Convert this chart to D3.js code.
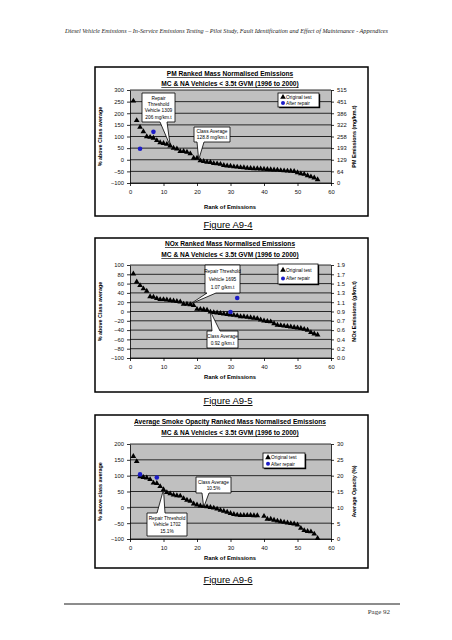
<!DOCTYPE html>
<html><head><meta charset="utf-8">
<script src="https://cdn.jsdelivr.net/npm/d3@7"></script>
<style>
html,body{margin:0;padding:0;background:#fff;}
svg{display:block;}
text{font-family:"Liberation Sans",Arial,sans-serif;}
</style></head>
<body>
<script>
// ---------------- DATA ----------------
const ranks = d3.range(1, 57);
const xTicks = [0, 10, 20, 30, 40, 50, 60];

const pmOriginal = [253,169,140,121,100,97,93,83,74,71,67,60,50,47,36,36,33,26,7,7,-4,-7,-10,-11,-16,-17,-19,-24,-26,-27,-30,-31,-33,-34,-36,-37,-38,-38,-39,-40,-41,-42,-43,-44,-46,-47,-48,-49,-50,-55,-60,-62,-68,-73,-78,-85];
const pmRepairRanks = [3, 7];
const pmRepair = [47, 120];
const pmLeftTicks = [-100,-50,0,50,100,150,200,250,300];
const pmRightLabels = ["0","64","129","193","258","322","386","451","515"];

const noxOriginal = [81,64,56,49,44,32,31,28,26,26,25,24,23,22,21,16,16,15,13,5,5,4,3,-1,-2,-3,-4,-5,-6,-7,-8,-9,-11,-11,-12,-13,-14,-15,-18,-20,-21,-22,-26,-29,-30,-31,-32,-33,-34,-35,-36,-38,-40,-45,-48,-50];
const noxRepairRanks = [30, 32];
const noxRepair = [-1, 29];
const noxLeftTicks = [-100,-80,-60,-40,-20,0,20,40,60,80,100];
const noxRightLabels = ["0.0","0.2","0.4","0.6","0.7","0.9","1.1","1.3","1.5","1.7","1.9"];

const smokeOriginal = [161,145,97,95,93,88,77,76,66,56,47,43,39,37,36,28,23,20,11,8,5,4,2,0,-2,-5,-9,-12,-15,-19,-22,-24,-25,-25,-25,-25,-26,-26,null,-28,-37,-37,-40,-43,-45,-47,-49,-51,-52,-55,-66,-73,-76,-77,-84,-98];
const smokeRepairRanks = [3, 8];
const smokeRepair = [104, 94];
const smokeLeftTicks = [-100,-50,0,50,100,150,200];
const smokeRightLabels = ["0","5","10","15","20","25","30"];

const legendLabels = ["Original test", "After repair"];
const headerText = "Diesel Vehicle Emissions \u2013 In-Service Emissions Testing \u2013 Pilot Study, Fault Identification and Effect of Maintenance - Appendices";

// ---------------- DRAW ----------------
const W = 452, H = 640;
const svg = d3.select("body").append("svg").attr("width", W).attr("height", H);

svg.append("text").attr("x", 65).attr("y", 33)
  .attr("textLength", 323).attr("lengthAdjust", "spacingAndGlyphs")
  .style("font-family", "'Liberation Serif','Times New Roman',serif").style("font-style", "italic")
  .style("font-size", "7px").attr("fill", "#222").text(headerText);

const BLUE = "#1c1cc8";

function callout(g, box, side, b1, b2, tip, lines) {
  const [bx, by, bw, bh] = box;
  let p;
  if (side === "bottom") {
    p = `M${bx},${by}H${bx+bw}V${by+bh}H${b2}L${tip[0]},${tip[1]}L${b1},${by+bh}H${bx}Z`;
  } else {
    p = `M${bx},${by}H${b1}L${tip[0]},${tip[1]}L${b2},${by}H${bx+bw}V${by+bh}H${bx}Z`;
  }
  g.append("path").attr("d", p).attr("fill", "#fff").attr("stroke", "#000").attr("stroke-width", 0.8);
  const lh = bh / (lines.length + 0.6);
  lines.forEach((t, i) => {
    g.append("text").attr("x", bx + bw / 2).attr("y", by + lh * (i + 0.8) + 1.8)
      .attr("text-anchor", "middle").style("font-size", "4.8px").text(t);
  });
}

function drawChart(cfg) {
  const g = svg.append("g");
  // frame
  g.append("rect").attr("x", cfg.frame[0]).attr("y", cfg.frame[1])
    .attr("width", cfg.frame[2] - cfg.frame[0]).attr("height", cfg.frame[3] - cfg.frame[1])
    .attr("fill", "#fff").attr("stroke", "#000").attr("stroke-width", 1.5);

  const x = d3.scaleLinear().domain([0, 60]).range([130, 331]);
  const y = d3.scaleLinear().domain(d3.extent(cfg.leftTicks)).range([cfg.plotBottom, cfg.plotTop]);

  // titles
  cfg.titles.forEach((t, i) => {
    g.append("text").attr("x", 230).attr("y", cfg.titleY[i]).attr("text-anchor", "middle")
      .style("font-size", "6.6px").style("font-weight", "bold").style("text-decoration", "underline")
      .text(t);
  });

  // plot background
  g.append("rect").attr("x", x(0)).attr("y", cfg.plotTop).attr("width", x(60) - x(0))
    .attr("height", cfg.plotBottom - cfg.plotTop).attr("fill", "#c0c0c0");

  // gridlines
  g.append("g").selectAll("line").data(cfg.leftTicks).join("line")
    .attr("x1", x(0)).attr("x2", x(60)).attr("y1", d => y(d)).attr("y2", d => y(d))
    .attr("stroke", "#000").attr("stroke-width", 0.8);

  const styleAxis = a => {
    a.selectAll("path,line").attr("stroke", "#000").attr("stroke-width", 0.8);
    a.selectAll("text").style("font-size", "5.8px").attr("fill", "#111")
      .style("font-family", "'Liberation Sans',Arial,sans-serif");
  };
  g.append("g").attr("transform", `translate(${x(0)},0)`)
    .call(d3.axisLeft(y).tickValues(cfg.leftTicks).tickSizeInner(3).tickSizeOuter(0).tickPadding(3))
    .call(styleAxis);
  g.append("g").attr("transform", `translate(${x(60)},0)`)
    .call(d3.axisRight(y).tickValues(cfg.leftTicks).tickFormat((d, i) => cfg.rightLabels[i])
      .tickSizeInner(3).tickSizeOuter(0).tickPadding(3))
    .call(styleAxis);
  g.append("g").attr("transform", `translate(0,${cfg.plotBottom})`)
    .call(d3.axisBottom(x).tickValues(xTicks).tickSizeInner(3).tickSizeOuter(0).tickPadding(4))
    .call(styleAxis);

  // axis titles
  const midY = (cfg.plotTop + cfg.plotBottom) / 2;
  g.append("text").attr("transform", `translate(102,${midY}) rotate(-90)`).attr("text-anchor", "middle")
    .style("font-size", "5.4px").style("font-weight", "bold").text(cfg.leftLabel);
  g.append("text").attr("transform", `translate(356,${midY}) rotate(-90)`).attr("text-anchor", "middle")
    .style("font-size", "5.4px").style("font-weight", "bold").text(cfg.rightLabel);
  g.append("text").attr("x", 230).attr("y", cfg.rankLabelY).attr("text-anchor", "middle")
    .style("font-size", "5.8px").style("font-weight", "bold").text("Rank of Emissions");

  // data
  const tri = d3.symbol().type(d3.symbolTriangle).size(14);
  g.append("g").selectAll("path").data(ranks.map((r, i) => [r, cfg.original[i]]).filter(d => d[1] !== null))
    .join("path").attr("d", tri).attr("transform", d => `translate(${x(d[0])},${y(d[1])})`).attr("fill", "#000");
  g.append("g").selectAll("circle").data(cfg.repairRanks.map((r, i) => [r, cfg.repair[i]]))
    .join("circle").attr("cx", d => x(d[0])).attr("cy", d => y(d[1])).attr("r", 2.3).attr("fill", BLUE);

  // callouts
  cfg.callouts.forEach(c => {
    callout(g, c.box, c.side, c.b1, c.b2, [x(c.tipRank), y(c.tipValue)], c.lines);
  });

  // legend
  const [lx, ly, lw, lh] = cfg.legend;
  g.append("rect").attr("x", lx + 1.2).attr("y", ly + 1.2).attr("width", lw).attr("height", lh).attr("fill", "#000");
  g.append("rect").attr("x", lx).attr("y", ly).attr("width", lw).attr("height", lh)
    .attr("fill", "#fff").attr("stroke", "#000").attr("stroke-width", 0.8);
  const r1 = ly + lh * 0.3, r2 = ly + lh * 0.72;
  g.append("path").attr("d", tri).attr("transform", `translate(${lx + 5},${r1})`).attr("fill", "#000");
  g.append("circle").attr("cx", lx + 5).attr("cy", r2).attr("r", 2).attr("fill", BLUE);
  g.append("text").attr("x", lx + 8).attr("y", r1 + 1.8).style("font-size", "4.8px").text(legendLabels[0]);
  g.append("text").attr("x", lx + 8).attr("y", r2 + 1.8).style("font-size", "4.8px").text(legendLabels[1]);

  // figure label
  svg.append("text").attr("x", 228).attr("y", cfg.figY).attr("text-anchor", "middle")
    .style("font-size", "9.5px").style("text-decoration", "underline").text(cfg.figLabel);
}

drawChart({
  frame: [95, 67, 368, 216],
  plotTop: 90, plotBottom: 183,
  leftTicks: pmLeftTicks, rightLabels: pmRightLabels,
  titles: ["PM Ranked Mass Normalised Emissions", "MC & NA Vehicles < 3.5t GVM (1996 to 2000)"],
  titleY: [76, 86],
  leftLabel: "% above Class average", rightLabel: "PM Emissions (mg/km.t)",
  rankLabelY: 209,
  original: pmOriginal, repairRanks: pmRepairRanks, repair: pmRepair,
  legend: [278, 93, 41, 14],
  callouts: [
    {box: [142, 93, 33, 29], side: "bottom", b1: 160, b2: 167, tipRank: 12, tipValue: pmOriginal[11],
     lines: ["Repair", "Threshold", "Vehicle 1309", "206 mg/km.t"]},
    {box: [194, 127, 36, 15], side: "bottom", b1: 197, b2: 204, tipRank: 20.5, tipValue: 0,
     lines: ["Class Average", "128.8 mg/km.t"]}
  ],
  figLabel: "Figure A9-4", figY: 228
});

drawChart({
  frame: [95, 238, 368, 392],
  plotTop: 265, plotBottom: 358,
  leftTicks: noxLeftTicks, rightLabels: noxRightLabels,
  titles: ["NOx Ranked Mass Normalised Emissions", "MC & NA Vehicles < 3.5t GVM (1996 to 2000)"],
  titleY: [246, 257],
  leftLabel: "% above Class average", rightLabel: "NOx Emissions (g/km.t)",
  rankLabelY: 379,
  original: noxOriginal, repairRanks: noxRepairRanks, repair: noxRepair,
  legend: [278, 264, 40, 20],
  callouts: [
    {box: [205, 265, 35, 28], side: "bottom", b1: 207, b2: 216, tipRank: 18, tipValue: 16,
     lines: ["Repair Threshold", "Vehicle 1695", "1.07 g/km.t"]},
    {box: [207, 331, 31, 17], side: "top", b1: 212, b2: 220, tipRank: 24, tipValue: 0,
     lines: ["Class Average", "0.92 g/km.t"]}
  ],
  figLabel: "Figure A9-5", figY: 404
});

drawChart({
  frame: [95, 415, 368, 568],
  plotTop: 444, plotBottom: 539,
  leftTicks: smokeLeftTicks, rightLabels: smokeRightLabels,
  titles: ["Average Smoke Opacity Ranked Mass Normalised Emissions", "MC & NA Vehicles < 3.5t GVM (1996 to 2000)"],
  titleY: [424, 435],
  leftLabel: "% above class average", rightLabel: "Average Opacity (%)",
  rankLabelY: 560,
  original: smokeOriginal, repairRanks: smokeRepairRanks, repair: smokeRepair,
  legend: [263, 453, 42, 15],
  callouts: [
    {box: [196, 477, 35, 16], side: "bottom", b1: 202, b2: 209, tipRank: 22, tipValue: 0,
     lines: ["Class Average", "10.5%"]},
    {box: [147, 513, 40, 23], side: "top", b1: 157, b2: 165, tipRank: 10, tipValue: smokeOriginal[9],
     lines: ["Repair Threshold", "Vehicle 1702", "15.1%"]}
  ],
  figLabel: "Figure A9-6", figY: 583
});

// footer
svg.append("line").attr("x1", 64).attr("x2", 400).attr("y1", 604).attr("y2", 604)
  .attr("stroke", "#000").attr("stroke-width", 0.9);
svg.append("text").attr("x", 390).attr("y", 614).attr("text-anchor", "end")
  .style("font-family", "'Liberation Serif','Times New Roman',serif").style("font-size", "7px")
  .attr("fill", "#333").text("Page 92");
</script>
</body></html>
